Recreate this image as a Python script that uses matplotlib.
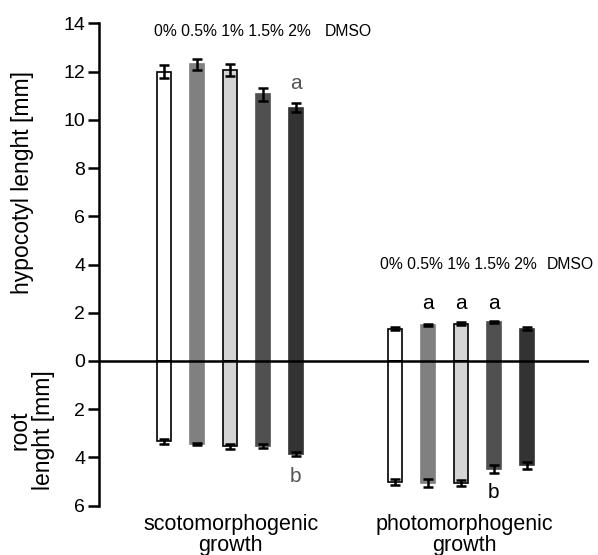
import numpy as np
import matplotlib
matplotlib.use("Agg")
import matplotlib.pyplot as plt

plt.rcParams['font.family'] = ['Liberation Sans', 'DejaVu Sans']

# data (mm)
conc = ["0%", "0.5%", "1%", "1.5%", "2%"]
colors = ["#ffffff", "#808080", "#d4d4d4", "#505050", "#333333"]
edges = ["#000000", "#808080", "#000000", "#505050", "#333333"]

scoto_hyp = [12.0, 12.3, 12.06, 11.06, 10.5]
scoto_hyp_err = [0.26, 0.22, 0.26, 0.27, 0.18]
scoto_root = [3.33, 3.44, 3.54, 3.54, 3.85]
scoto_root_err = [0.1, 0.05, 0.1, 0.08, 0.08]

photo_hyp = [1.34, 1.5, 1.55, 1.6, 1.34]
photo_hyp_err = [0.05, 0.05, 0.05, 0.04, 0.05]
photo_root = [5.03, 5.07, 5.07, 4.48, 4.33]
photo_root_err = [0.12, 0.17, 0.12, 0.15, 0.15]

fig = plt.figure(figsize=(5.98, 5.55), dpi=100)
ax = fig.add_axes([0.1656, 0.0888, 0.82, 0.8692])

x_scoto = np.arange(5)
x_photo = np.arange(5) + 7
w = 0.43

for xs, hyp, hyp_e, root, root_e in [(x_scoto, scoto_hyp, scoto_hyp_err, scoto_root, scoto_root_err),
                                     (x_photo, photo_hyp, photo_hyp_err, photo_root, photo_root_err)]:
    for i in range(5):
        ax.bar(xs[i], hyp[i], w, color=colors[i], edgecolor=edges[i], linewidth=1.2, zorder=2)
        ax.bar(xs[i], -root[i], w, color=colors[i], edgecolor=edges[i], linewidth=1.2, zorder=2)
        ax.errorbar(xs[i], hyp[i], yerr=hyp_e[i], fmt='none', ecolor='black',
                    elinewidth=1.8, capsize=3.5, capthick=1.8, zorder=3)
        ax.errorbar(xs[i], -root[i], yerr=root_e[i], fmt='none', ecolor='black',
                    elinewidth=1.8, capsize=3.5, capthick=1.8, zorder=3)

ax.axhline(0, color='black', lw=1.8, zorder=4)

ax.set_xlim(-1.97, 12.9)
ax.set_ylim(-6, 14)
ticks = [14, 12, 10, 8, 6, 4, 2, 0, -2, -4, -6]
ax.set_yticks(ticks)
ax.set_yticklabels([str(abs(t)) for t in ticks], fontsize=14)
ax.tick_params(axis='y', length=8, width=1.8, pad=2)
ax.set_xticks([])
for s in ['top', 'right', 'bottom']:
    ax.spines[s].set_visible(False)
ax.spines['left'].set_linewidth(1.8)

# concentration headers
ax.text(2.08, 13.68, " ".join(conc), ha='center', va='center', fontsize=11.3)
ax.text(4.88, 13.68, "DMSO", ha='left', va='center', fontsize=11.3)
ax.text(8.92, 4.0, " ".join(conc), ha='center', va='center', fontsize=11.3)
ax.text(11.6, 4.0, "DMSO", ha='left', va='center', fontsize=11.3, clip_on=False)

# significance letters
ax.text(x_scoto[4], 11.5, "a", ha='center', va='center', fontsize=15, color='#555555')
ax.text(x_scoto[4], -4.8, "b", ha='center', va='center', fontsize=15, color='#555555')
for i in [1, 2, 3]:
    ax.text(x_photo[i], 2.4, "a", ha='center', va='center', fontsize=15)
ax.text(x_photo[3], -5.45, "b", ha='center', va='center', fontsize=15)

# group labels
ax.text(2.02, -6.35, "scotomorphogenic\ngrowth", ha='center', va='top', fontsize=15.5,
        linespacing=1.0)
ax.text(9.1, -6.35, "photomorphogenic\ngrowth", ha='center', va='top', fontsize=15.5,
        linespacing=1.0)

fig.text(0.037, 0.672, "hypocotyl lenght [mm]", rotation=90, ha='center', va='center', fontsize=16.5)
fig.text(0.053, 0.225, "root\nlenght [mm]", rotation=90, ha='center', va='center', fontsize=16.5,
         linespacing=1.05)

fig.savefig("out.png", dpi=100)
